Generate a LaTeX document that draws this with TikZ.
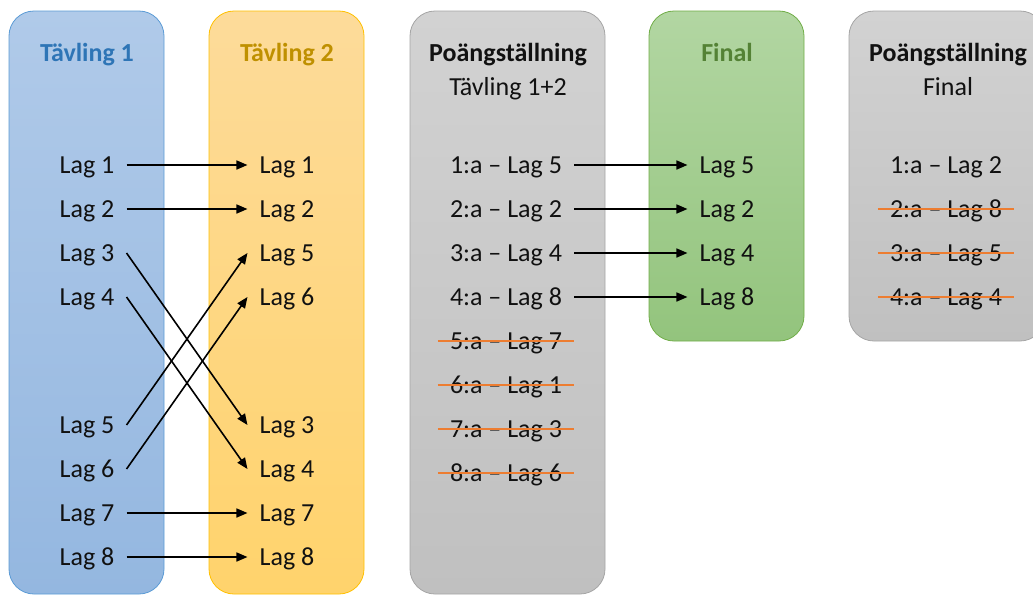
\documentclass[tikz,border=0pt]{standalone}
\usepackage{fontspec}
\setmainfont{Carlito}
\usetikzlibrary{arrows.meta}
\definecolor{bluetop}{HTML}{B0CAE9}
\definecolor{bluebot}{HTML}{94B7E0}
\definecolor{blueedge}{HTML}{5B9BD5}
\definecolor{bluetitle}{HTML}{2E75B6}
\definecolor{yeltop}{HTML}{FDDB9A}
\definecolor{yelbot}{HTML}{FFD36C}
\definecolor{yeledge}{HTML}{FFC000}
\definecolor{yeltitle}{HTML}{BF9000}
\definecolor{graytop}{HTML}{D2D2D2}
\definecolor{graybot}{HTML}{C0C0C0}
\definecolor{grayedge}{HTML}{A5A5A5}
\definecolor{greentop}{HTML}{B2D6A2}
\definecolor{greenbot}{HTML}{93C47D}
\definecolor{greenedge}{HTML}{70AD47}
\definecolor{greentitle}{HTML}{548235}
\definecolor{strike}{HTML}{ED7D31}
\definecolor{txtcol}{HTML}{111111}
\tikzset{
  panel/.style={rounded corners=25pt, line width=0.8pt},
  txt/.style={font=\fontsize{26}{30}\selectfont, text=txtcol, text height=17pt, text depth=0pt, inner ysep=0pt, inner xsep=12pt},
  ttl/.style={font=\fontsize{26}{30}\selectfont\bfseries, text height=17pt, text depth=0pt, inner sep=0pt},
  sub/.style={font=\fontsize{26}{30}\selectfont, text=txtcol, text height=17pt, text depth=0pt, inner sep=0pt},
  arr/.style={line width=1.6pt, -{Triangle[length=11pt,width=9pt]}},
  strk/.style={strike, line width=2pt}
}
\begin{document}
\begin{tikzpicture}[x=1pt,y=-1pt]
\useasboundingbox (0,0) rectangle (1033,595);
\begin{scope}
\clip (0,0) rectangle (1033,595);
% panels
\path[panel, top color=bluetop, bottom color=bluebot, draw=blueedge] (9,11) rectangle (164,594);
\path[panel, top color=yeltop, bottom color=yelbot, draw=yeledge] (209,11) rectangle (364,594);
\path[panel, top color=graytop, bottom color=graybot, draw=grayedge] (410,11) rectangle (605,594);
\path[panel, top color=greentop, bottom color=greenbot, draw=greenedge] (649,11) rectangle (804,341);
\path[panel, top color=graytop, bottom color=graybot, draw=grayedge] (849,11) rectangle (1045,341);
\end{scope}
% titles
\node[ttl, text=bluetitle] (t1) at (87,53) {Tävling 1};
\node[ttl, text=yeltitle] (t2) at (287,53) {Tävling 2};
\node[ttl, text=txtcol] (t3) at (508,53) {Poängställning};
\node[sub] (s3) at (508,87) {Tävling 1+2};
\node[ttl, text=greentitle] (t4) at (727,53) {Final};
\node[ttl, text=txtcol] (t5) at (948,53) {Poängställning};
\node[sub] (s5) at (948,87) {Final};
% column 1
\node[txt] (a1) at (87,165) {Lag 1};
\node[txt] (a2) at (87,209) {Lag 2};
\node[txt] (a3) at (87,253) {Lag 3};
\node[txt] (a4) at (87,297) {Lag 4};
\node[txt] (a5) at (87,425) {Lag 5};
\node[txt] (a6) at (87,469) {Lag 6};
\node[txt] (a7) at (87,513) {Lag 7};
\node[txt] (a8) at (87,557) {Lag 8};
% column 2
\node[txt] (b1) at (287,165) {Lag 1};
\node[txt] (b2) at (287,209) {Lag 2};
\node[txt] (b5) at (287,253) {Lag 5};
\node[txt] (b6) at (287,297) {Lag 6};
\node[txt] (b3) at (287,425) {Lag 3};
\node[txt] (b4) at (287,469) {Lag 4};
\node[txt] (b7) at (287,513) {Lag 7};
\node[txt] (b8) at (287,557) {Lag 8};
% column 3
\node[txt] (c1) at (506,165) {1:a – Lag 5};
\node[txt] (c2) at (506,209) {2:a – Lag 2};
\node[txt] (c3) at (506,253) {3:a – Lag 4};
\node[txt] (c4) at (506,297) {4:a – Lag 8};
\node[txt] (c5) at (506,341) {5:a – Lag 7};
\node[txt] (c6) at (506,385) {6:a – Lag 1};
\node[txt] (c7) at (506,429) {7:a – Lag 3};
\node[txt] (c8) at (506,473) {8:a – Lag 6};
% column 4
\node[txt] (d5) at (727,165) {Lag 5};
\node[txt] (d2) at (727,209) {Lag 2};
\node[txt] (d4) at (727,253) {Lag 4};
\node[txt] (d8) at (727,297) {Lag 8};
% column 5
\node[txt] (e1) at (946,165) {1:a – Lag 2};
\node[txt] (e2) at (946,209) {2:a – Lag 8};
\node[txt] (e3) at (946,253) {3:a – Lag 5};
\node[txt] (e4) at (946,297) {4:a – Lag 4};
% arrows col1 -> col2
\draw[arr] (a1.east) -- (b1.west);
\draw[arr] (a2.east) -- (b2.west);
\draw[arr] (a3.east) -- (b3.west);
\draw[arr] (a4.east) -- (b4.west);
\draw[arr] (a5.east) -- (b5.west);
\draw[arr] (a6.east) -- (b6.west);
\draw[arr] (a7.east) -- (b7.west);
\draw[arr] (a8.east) -- (b8.west);
% arrows col3 -> col4
\draw[arr] (c1.east) -- (d5.west);
\draw[arr] (c2.east) -- (d2.west);
\draw[arr] (c3.east) -- (d4.west);
\draw[arr] (c4.east) -- (d8.west);
% strikes
\foreach \n in {c5,c6,c7,c8,e2,e3,e4}
  \draw[strk] (\n.west) -- (\n.east);
\end{tikzpicture}
\end{document}
